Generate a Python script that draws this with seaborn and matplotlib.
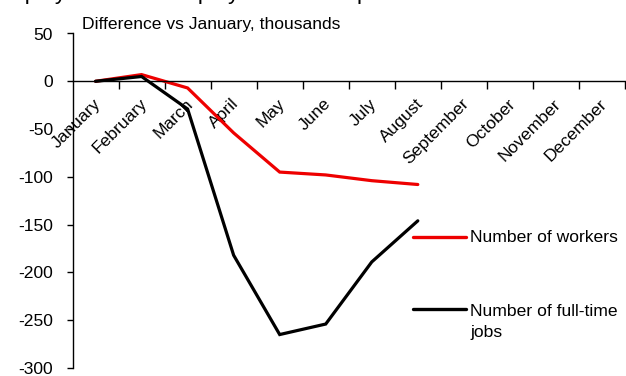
import matplotlib
matplotlib.use("Agg")
import matplotlib.pyplot as plt
import matplotlib.transforms as mtransforms
from matplotlib.lines import Line2D
import numpy as np
import pandas as pd
import seaborn as sns

# Calendar axis and observed months
months = ["January", "February", "March", "April", "May", "June", "July",
          "August", "September", "October", "November", "December"]
observed = months[:8]

# Difference vs January, thousands
workers = [0, 7, -7, -54, -95, -98, -104, -108]
fulltime_jobs = [0, 5, -29, -182, -265, -254, -189, -146]

series_names = ["Number of workers", "Number of full-time jobs"]
legend_labels = ["Number of workers", "Number of full-time\njobs"]
colors = ["#ee0000", "#000000"]

yticks = [50, 0, -50, -100, -150, -200, -250, -300]

df = pd.DataFrame({
    "month": observed * 2,
    "pos": list(range(len(observed))) * 2,
    "value": workers + fulltime_jobs,
    "series": [series_names[0]] * len(observed) + [series_names[1]] * len(observed),
})

sns.set_style("white")
plt.rcParams["font.family"] = ["Liberation Sans", "DejaVu Sans"]
plt.rcParams["text.color"] = "black"
plt.rcParams["xtick.color"] = "black"
plt.rcParams["ytick.color"] = "black"
plt.rcParams["axes.labelcolor"] = "black"
FS = 12.6

W, H, DPI = 626, 376, 100
fig = plt.figure(figsize=(W / DPI, H / DPI), dpi=DPI)
ax = fig.add_axes([72.5 / W, 1 - 368 / H, (625 - 72.5) / W, (368 - 33.5) / H])

sns.lineplot(data=df, x="pos", y="value", hue="series", palette=colors,
             hue_order=series_names, linewidth=2.3, legend=False, ax=ax,
             sort=False)
for line in ax.get_lines():
    line.set_solid_joinstyle("miter")

ax.set_xlim(-0.5, len(months) - 0.5)
ax.set_ylim(-300, 50)
ax.set_xlabel("")
ax.set_ylabel("")

# Spines: y axis on the left, category axis crossing at zero
for s in ["top", "right"]:
    ax.spines[s].set_visible(False)
ax.spines["left"].set_color("black")
ax.spines["left"].set_linewidth(1.0)
ax.spines["bottom"].set_position(("data", 0))
ax.spines["bottom"].set_color("black")
ax.spines["bottom"].set_linewidth(1.0)

ax.set_yticks(yticks)
ax.set_yticklabels([str(v) for v in yticks], fontsize=FS, color="black")
ax.tick_params(axis="y", direction="out", length=4, width=1.0,
               pad=10, colors="black", left=True)

# Tick marks between categories, labels at category centres
ax.set_xticks(np.arange(len(months)) + 0.5)
ax.set_xticklabels([])
ax.tick_params(axis="x", which="major", direction="out", length=6,
               width=1.0, colors="black", bottom=True)
ax.set_xticks(np.arange(len(months)), minor=True)
ax.set_xticklabels(months, minor=True, fontsize=FS, rotation=45,
                   ha="right", va="center", rotation_mode="anchor",
                   color="black")
ax.tick_params(axis="x", which="minor", length=0, pad=14.5, bottom=True)
shift = mtransforms.ScaledTranslation(3 / DPI, 0, fig.dpi_scale_trans)
for lbl in ax.get_xticklabels(minor=True):
    lbl.set_transform(lbl.get_transform() + shift)

ax.text(82 / W, 1 - 25 / H, "Difference vs January, thousands",
        transform=fig.transFigure, fontsize=FS, va="center", ha="left",
        color="black")

# Title, clipped at the top edge
fig.text(-9 / W, 1 + 0.5 / H, "Employment and employment in the pandemic",
         fontsize=16.2, va="baseline", ha="left", color="black")

# Legend drawn beside the lines
legend_y = [237, 322]
handle_y = [237, 309]
for lab, col, ty, hy in zip(legend_labels, colors, legend_y, handle_y):
    fig.add_artist(Line2D([413 / W, 466 / W], [1 - hy / H] * 2,
                          color=col, linewidth=2.4,
                          transform=fig.transFigure))
    fig.text(470 / W, 1 - ty / H, lab, fontsize=FS, va="center",
             ha="left", linespacing=1.45, color="black")

fig.savefig("out.png", dpi=DPI)
